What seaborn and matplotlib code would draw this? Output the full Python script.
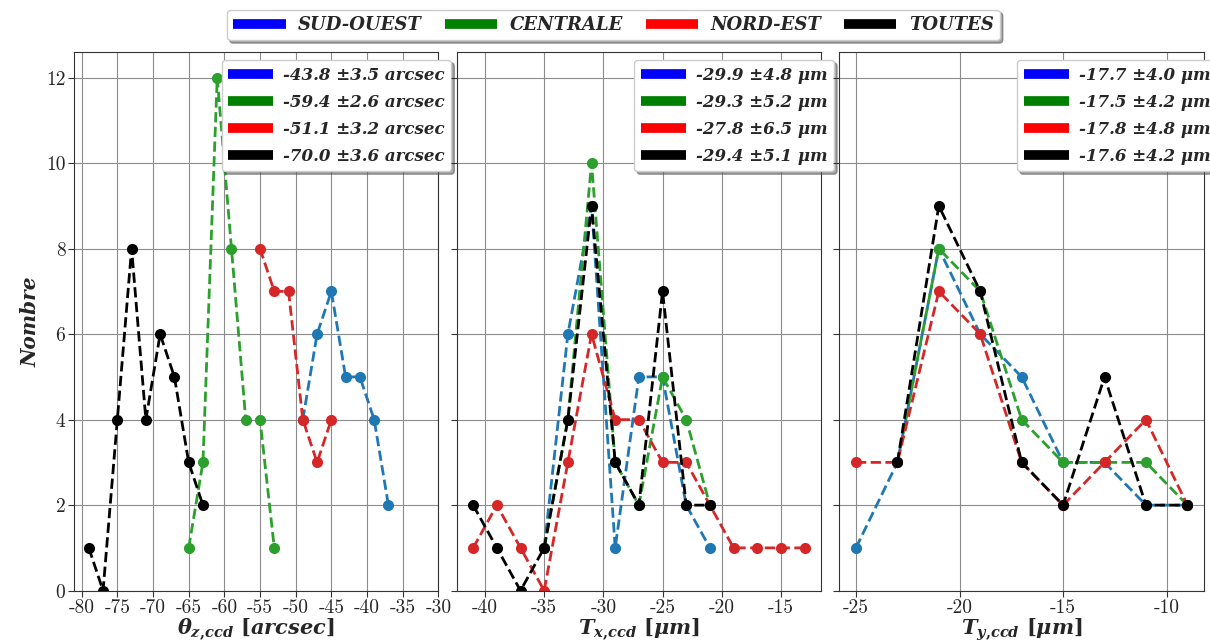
import matplotlib
matplotlib.use("Agg")
import matplotlib.pyplot as plt
import seaborn as sns
from matplotlib.lines import Line2D
from matplotlib.font_manager import FontProperties

# données : theta_z
theta_sud_x = [-49, -47, -45, -43, -41, -39, -37]
theta_sud_y = [4, 6, 7, 5, 5, 4, 2]
theta_cen_x = [-65, -63, -61, -59, -57, -55, -53]
theta_cen_y = [1, 3, 12, 8, 4, 4, 1]
theta_nord_x = [-55, -53, -51, -49, -47, -45]
theta_nord_y = [8, 7, 7, 4, 3, 4]
theta_tout_x = [-79, -77, -75, -73, -71, -69, -67, -65, -63]
theta_tout_y = [1, 0, 4, 8, 4, 6, 5, 3, 2]

# données : T_x
tx_sud_x = [-35, -33, -31, -29, -27, -25, -23, -21]
tx_sud_y = [1, 6, 9, 1, 5, 5, 2, 1]
tx_cen_x = [-35, -33, -31, -29, -27, -25, -23, -21]
tx_cen_y = [1, 4, 10, 3, 2, 5, 4, 2]
tx_nord_x = [-41, -39, -37, -35, -33, -31, -29, -27, -25, -23, -21, -19, -17, -15, -13]
tx_nord_y = [1, 2, 1, 0, 3, 6, 4, 4, 3, 3, 2, 1, 1, 1, 1]
tx_tout_x = [-41, -39, -37, -35, -33, -31, -29, -27, -25, -23, -21]
tx_tout_y = [2, 1, 0, 1, 4, 9, 3, 2, 7, 2, 2]

# données : T_y
ty_sud_x = [-25, -23, -21, -19, -17, -15, -13, -11, -9]
ty_sud_y = [1, 3, 8, 6, 5, 3, 3, 2, 2]
ty_cen_x = [-23, -21, -19, -17, -15, -13, -11, -9]
ty_cen_y = [3, 8, 7, 4, 3, 3, 3, 2]
ty_nord_x = [-25, -23, -21, -19, -17, -15, -13, -11, -9]
ty_nord_y = [3, 3, 7, 6, 3, 2, 3, 4, 2]
ty_tout_x = [-23, -21, -19, -17, -15, -13, -11, -9]
ty_tout_y = [3, 9, 7, 3, 2, 5, 2, 2]

zones = ["SUD-OUEST", "CENTRALE", "NORD-EST", "TOUTES"]
theta_stats = ["-43.8 ±3.5 arcsec", "-59.4 ±2.6 arcsec", "-51.1 ±3.2 arcsec", "-70.0 ±3.6 arcsec"]
tx_stats = ["-29.9 ±4.8 μm", "-29.3 ±5.2 μm", "-27.8 ±6.5 μm", "-29.4 ±5.1 μm"]
ty_stats = ["-17.7 ±4.0 μm", "-17.5 ±4.2 μm", "-17.8 ±4.8 μm", "-17.6 ±4.2 μm"]

theta_ticks = [-80, -75, -70, -65, -60, -55, -50, -45, -40, -35, -30]
tx_ticks = [-40, -35, -30, -25, -20, -15]
ty_ticks = [-25, -20, -15, -10]
y_ticks = [0, 2, 4, 6, 8, 10, 12]

sns.set_style("whitegrid", {"grid.color": "#8c8c8c", "axes.edgecolor": "#333333",
                            "xtick.bottom": True, "ytick.left": True})
plt.rcParams["mathtext.fontset"] = "custom"
plt.rcParams["mathtext.it"] = "DejaVu Serif:italic:bold"
plt.rcParams["mathtext.rm"] = "DejaVu Serif:bold"
plt.rcParams["mathtext.bf"] = "DejaVu Serif:bold"

line_cols = ["tab:blue", "tab:green", "tab:red", "black"]
leg_cols = ["blue", "green", "red", "black"]
bi_small = FontProperties(family="DejaVu Serif", weight="bold", style="italic", size=12)
bi_top = FontProperties(family="DejaVu Serif", weight="bold", style="italic", size=13)


def leg_handles():
    return [Line2D([0], [0], color=c, lw=7, solid_capstyle="butt") for c in leg_cols]


fig, axes = plt.subplots(1, 3, figsize=(12.1, 6.42), dpi=100, sharey=True)
fig.subplots_adjust(left=0.061, right=0.995, top=0.919, bottom=0.080, wspace=0.05)

panels = [
    ([(theta_sud_x, theta_sud_y), (theta_cen_x, theta_cen_y), (theta_nord_x, theta_nord_y), (theta_tout_x, theta_tout_y)],
     theta_stats, theta_ticks, (-81.1, -30), r"$\theta_{z\mathrm{,}ccd}\ [arcsec]$"),
    ([(tx_sud_x, tx_sud_y), (tx_cen_x, tx_cen_y), (tx_nord_x, tx_nord_y), (tx_tout_x, tx_tout_y)],
     tx_stats, tx_ticks, (-42.4, -11.6), r"$T_{x\mathrm{,}ccd}\ [\mu m]$"),
    ([(ty_sud_x, ty_sud_y), (ty_cen_x, ty_cen_y), (ty_nord_x, ty_nord_y), (ty_tout_x, ty_tout_y)],
     ty_stats, ty_ticks, (-25.8, -8.2), r"$T_{y\mathrm{,}ccd}\ [\mu m]$"),
]

for ax, (series, stats, ticks, xlim, xlabel) in zip(axes, panels):
    for (xs, ys), c in zip(series, line_cols):
        sns.lineplot(x=xs, y=ys, ax=ax, color=c, marker="o", linestyle="--",
                     linewidth=2, markersize=8, markeredgewidth=0)
    ax.set_xlim(*xlim)
    ax.set_ylim(0, 12.6)
    ax.set_xticks(ticks)
    ax.set_xticklabels([str(t) for t in ticks], fontfamily="cmr10", fontsize=14)
    ax.set_yticks(y_ticks)
    ax.set_yticklabels([str(t) for t in y_ticks], fontfamily="cmr10", fontsize=14)
    ax.tick_params(axis="both", length=4, width=0.8, color="#333333", direction="out", pad=2)
    ax.set_xlabel(xlabel, fontsize=15, labelpad=0)
    ax.grid(True, color="#8c8c8c", linewidth=0.8)
    leg = ax.legend(leg_handles(), stats, loc="upper right", bbox_to_anchor=(1.036, 0.985),
                    prop=bi_small, shadow=True, fancybox=True, handlelength=2.7, borderaxespad=0,
                    labelspacing=0.6, framealpha=1, edgecolor="#cccccc", borderpad=0.4,
                    handletextpad=0.6)
    leg.set_zorder(10)

axes[0].set_ylabel("Nombre", fontproperties=FontProperties(family="DejaVu Serif", weight="bold",
                                                           style="italic", size=14.5))
fig.legend(leg_handles(), zones, loc="center", bbox_to_anchor=(0.507, 0.961), ncol=4, prop=bi_top,
           shadow=True, fancybox=True, handlelength=2.9, columnspacing=1.25, framealpha=1,
           edgecolor="#cccccc", borderpad=0.35, handletextpad=0.7)

plt.savefig("out.png", dpi=100)
